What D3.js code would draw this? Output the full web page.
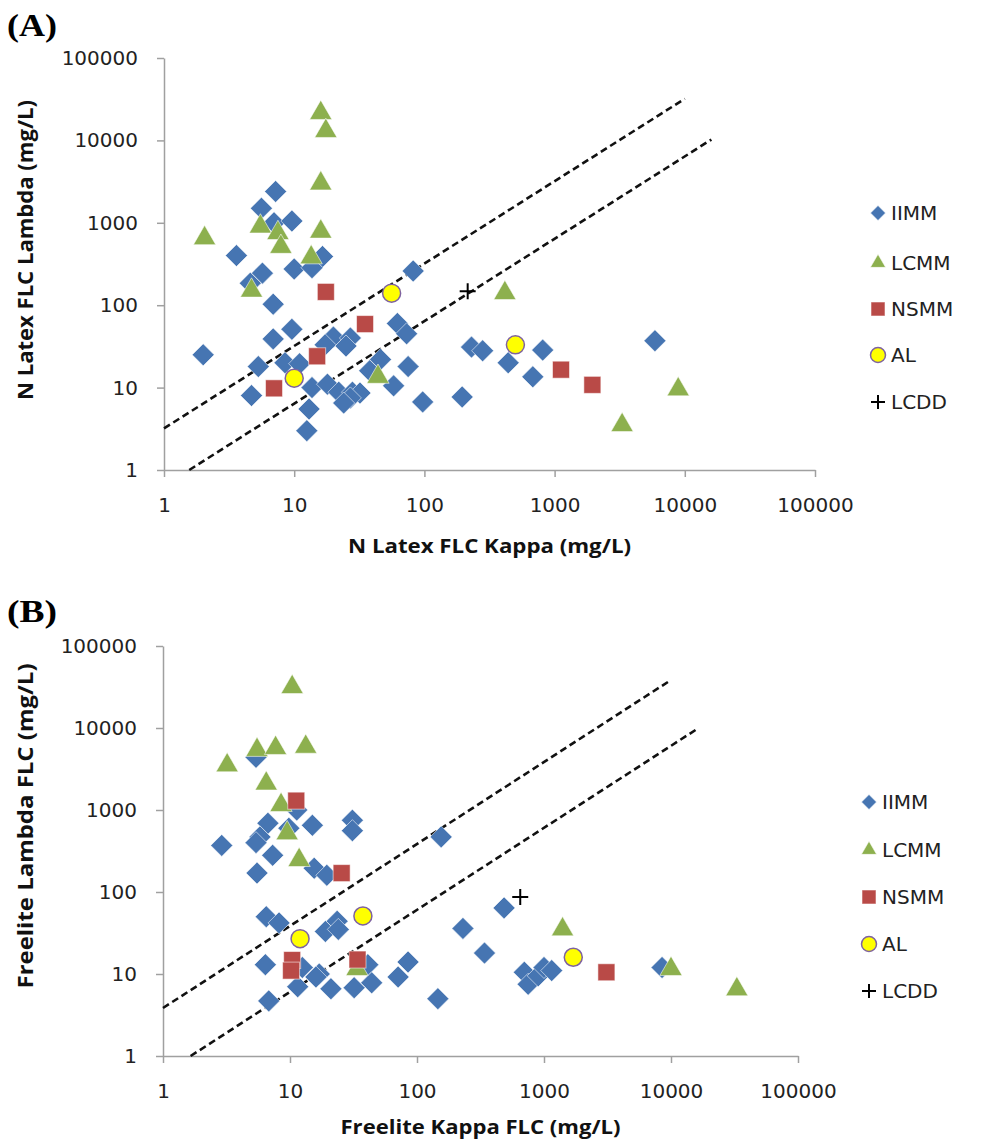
<!DOCTYPE html>
<html>
<head>
<meta charset="utf-8">
<script src="https://cdn.jsdelivr.net/npm/d3@7"></script>
<style>
  body { margin: 0; background: #fff; }
</style>
</head>
<body>
<div id="chart"></div>
<script>
// series names and log-axis ticks
const seriesNames = ["IIMM", "LCMM", "NSMM", "AL", "LCDD"];
const tickValues = [1, 10, 100, 1000, 10000, 100000];

// panel A: N Latex FLC  [kappa, lambda] in mg/L
const latexIIMM = [[7.2, 2400], [5.6, 1500], [7, 1000], [9.6, 1050], [3.6, 400], [16.5, 390],
  [10, 275], [13.7, 285], [5.7, 245], [4.6, 185], [82, 260], [6.9, 103], [9.6, 51], [6.9, 39],
  [62, 60], [73, 45], [20, 41], [27, 40], [25, 32], [17.3, 33], [2, 25], [5.3, 18], [8.5, 20],
  [11, 19.5], [46, 22], [38, 16], [75, 18], [230, 31], [280, 28], [13.7, 10], [18, 11], [22, 8.8],
  [28, 8.8], [32, 8.6], [27, 7.5], [24, 6.5], [58, 10.5], [4.7, 8], [97, 6.7], [195, 7.7],
  [13, 5.5], [12.5, 3], [810, 28.5], [440, 20], [680, 13.5], [5900, 37]];
const latexLCMM = [[16, 21500], [17.5, 13000], [16, 3000], [16, 780], [2.05, 650], [5.5, 900],
  [7.5, 750], [7.9, 510], [13.5, 380], [4.7, 150], [44, 13.5], [415, 140], [8900, 9.5], [3300, 3.5]];
const latexNSMM = [[17.5, 145], [35, 59], [15, 24], [7, 9.8], [1120, 16.5], [1950, 10.8]];
const latexAL = [[56, 140], [10, 13], [500, 33]];
const latexLCDD = [[215, 148]];
// kappa/lambda ratio limits (0.31 - 1.56)
const latexLimits = [[[1, 3.2], [10000, 32000]], [[1.5625, 1], [16000, 10240]]];

// panel B: Freelite FLC  [kappa, lambda] in mg/L
const freeIIMM = [[5.4, 4400], [11.3, 1000], [6.7, 690], [5.8, 470], [5.4, 400], [9.8, 600],
  [15, 650], [31, 750], [31, 560], [2.9, 370], [7.3, 280], [5.5, 170], [15.5, 195], [19.5, 160],
  [155, 470], [6.5, 50], [8.2, 42], [23.5, 44], [19, 33], [24, 35], [230, 36], [340, 18], [485, 64],
  [6.4, 13], [12.5, 12], [17, 10], [16, 9.2], [41, 13], [44, 7.8], [85, 14], [71, 9.2], [11.5, 7],
  [21, 6.6], [32, 6.8], [6.8, 4.7], [146, 5], [700, 10.5], [750, 7.5], [900, 9.5], [1000, 12],
  [1150, 11], [8500, 12]];
const freeLCMM = [[10.4, 31500], [3.2, 3500], [5.5, 5400], [7.7, 5700], [13.3, 5900], [6.5, 2100],
  [8.5, 1150], [9.5, 520], [11.8, 245], [33.7, 11.5], [1400, 35], [10000, 11.5], [33000, 6.5]];
const freeNSMM = [[11.2, 1300], [25.5, 170], [10.4, 14.8], [10.2, 11], [34, 15], [3100, 10.5]];
const freeAL = [[12, 27], [37.5, 51], [1700, 16]];
const freeLCDD = [[650, 87]];
// kappa/lambda ratio limits (0.26 - 1.65)
const freeLimits = [[[1, 3.85], [10000, 38500]], [[1.65, 1], [16000, 9700]]];

const W = 995, H = 1143;
const tickFont = "'DejaVu Sans', sans-serif";
const titleFont = "'Open Sans', sans-serif";

const colors = {
  IIMM: "#4675B2",
  LCMM: "#8DB04E",
  NSMM: "#B94A47",
  AL: "#FFFF00",
  LCDD: "#000000"
};

let svg = d3.select("#chart")
  .append("svg")
  .attr("width", W)
  .attr("height", H);

// draw one marker of a series into g at (x, y); big = plot size, else legend size
function drawMarker(g, name, x, y, big) {
  const k = big ? 1 : 0.68;
  if (name === "IIMM") {
    const r = 11 * k;
    g.append("path")
      .attr("d", `M${x},${y - r}L${x + r},${y}L${x},${y + r}L${x - r},${y}Z`)
      .attr("fill", colors.IIMM)
      .attr("stroke", "#fff").attr("stroke-opacity", 0.55).attr("stroke-width", 1);
  } else if (name === "LCMM") {
    g.append("path")
      .attr("d", d3.symbol(d3.symbolTriangle, 215 * k * k)())
      .attr("transform", `translate(${x},${y})`)
      .attr("fill", colors.LCMM)
      .attr("stroke", "#fff").attr("stroke-opacity", 0.55).attr("stroke-width", 1);
  } else if (name === "NSMM") {
    const s = (big ? 17 : 14);
    g.append("rect")
      .attr("x", x - s / 2).attr("y", y - s / 2)
      .attr("width", s).attr("height", s)
      .attr("fill", colors.NSMM)
      .attr("stroke", "#fff").attr("stroke-opacity", 0.55).attr("stroke-width", 1);
  } else if (name === "AL") {
    g.append("circle")
      .attr("cx", x).attr("cy", y)
      .attr("r", big ? 9 : 7.5)
      .attr("fill", colors.AL)
      .attr("stroke", "#7E62A0").attr("stroke-width", 1.5);
  } else {
    const a = big ? 8 : 7;
    g.append("path")
      .attr("d", `M${x - a},${y}H${x + a}M${x},${y - a}V${y + a}`)
      .attr("stroke", colors.LCDD).attr("stroke-width", 2).attr("fill", "none");
  }
}

function drawPanel(cfg) {
  let g = svg.append("g");

  let x = d3.scaleLog().domain([1, 100000]).range([cfg.left, cfg.right]);
  let y = d3.scaleLog().domain([1, 100000]).range([cfg.bottom, cfg.top]);

  // axes
  let yAxis = g.append("g")
    .attr("transform", `translate(${cfg.left},0)`)
    .call(d3.axisLeft(y).tickValues(tickValues).tickFormat(d3.format("d"))
      .tickSizeInner(7).tickSizeOuter(0).tickPadding(19));
  let xAxis = g.append("g")
    .attr("transform", `translate(0,${cfg.bottom})`)
    .call(d3.axisBottom(x).tickValues(tickValues).tickFormat(d3.format("d"))
      .tickSizeInner(7).tickSizeOuter(0).tickPadding(21));
  [yAxis, xAxis].forEach(ax => {
    ax.select(".domain").attr("stroke", "#a0a0a0").attr("stroke-width", 1.5);
    ax.selectAll(".tick line").attr("stroke", "#a0a0a0").attr("stroke-width", 1.5);
    ax.selectAll(".tick text")
      .attr("fill", "#222")
      .style("font-family", tickFont)
      .style("font-size", "20px");
  });

  // ratio limit lines
  let line = d3.line().x(d => x(d[0])).y(d => y(d[1]));
  g.selectAll(".limit")
    .data(cfg.limits)
    .enter()
    .append("path")
    .attr("d", line)
    .attr("fill", "none")
    .attr("stroke", "#111")
    .attr("stroke-width", 2.6)
    .attr("stroke-dasharray", "7,4");

  // markers, series in drawing order
  let marks = g.append("g");
  cfg.series.forEach((pts, i) => {
    pts.forEach(p => drawMarker(marks, seriesNames[i], x(p[0]), y(p[1]), true));
  });

  // legend
  let legend = g.append("g");
  seriesNames.forEach((name, i) => {
    const ly = cfg.legendY[i];
    drawMarker(legend, name, cfg.legendX, ly, false);
    legend.append("text")
      .attr("x", cfg.legendX + 13)
      .attr("y", ly)
      .attr("dy", "0.36em")
      .attr("fill", "#222")
      .style("font-family", tickFont)
      .style("font-size", "20px")
      .text(name);
  });

  // axis titles
  g.append("text")
    .attr("x", (cfg.left + cfg.right) / 2)
    .attr("y", cfg.xTitleY)
    .attr("text-anchor", "middle")
    .attr("textLength", cfg.xTitleLen)
    .attr("lengthAdjust", "spacingAndGlyphs")
    .attr("fill", "#111")
    .style("font-family", titleFont)
    .style("font-weight", "bold")
    .style("font-size", "20px")
    .text(cfg.xTitle);

  g.append("text")
    .attr("transform", `translate(33,${cfg.yTitleMid}) rotate(-90)`)
    .attr("text-anchor", "middle")
    .attr("textLength", cfg.yTitleLen)
    .attr("lengthAdjust", "spacingAndGlyphs")
    .attr("fill", "#111")
    .style("font-family", titleFont)
    .style("font-weight", "bold")
    .style("font-size", "21px")
    .text(cfg.yTitle);

  // panel letter
  g.append("text")
    .attr("x", 7)
    .attr("y", cfg.labelY)
    .attr("textLength", 50)
    .attr("lengthAdjust", "spacingAndGlyphs")
    .attr("fill", "#000")
    .style("font-family", "'Liberation Serif', serif")
    .style("font-weight", "bold")
    .style("font-size", "31px")
    .text(cfg.label);
}

drawPanel({
  label: "(A)", labelY: 36,
  left: 164, right: 815, top: 58, bottom: 470,
  series: [latexIIMM, latexLCMM, latexNSMM, latexAL, latexLCDD],
  limits: latexLimits,
  legendX: 878, legendY: [213, 263, 309, 355, 402],
  xTitle: "N Latex FLC Kappa  (mg/L)", xTitleY: 553, xTitleLen: 283,
  yTitle: "N Latex FLC Lambda (mg/L)", yTitleMid: 250, yTitleLen: 300
});

drawPanel({
  label: "(B)", labelY: 622,
  left: 163, right: 798, top: 646, bottom: 1056,
  series: [freeIIMM, freeLCMM, freeNSMM, freeAL, freeLCDD],
  limits: freeLimits,
  legendX: 869, legendY: [802, 850, 897, 944, 991],
  xTitle: "Freelite Kappa FLC (mg/L)", xTitleY: 1134, xTitleLen: 280,
  yTitle: "Freelite Lambda FLC (mg/L)", yTitleMid: 826, yTitleLen: 325
});
</script>
</body>
</html>
